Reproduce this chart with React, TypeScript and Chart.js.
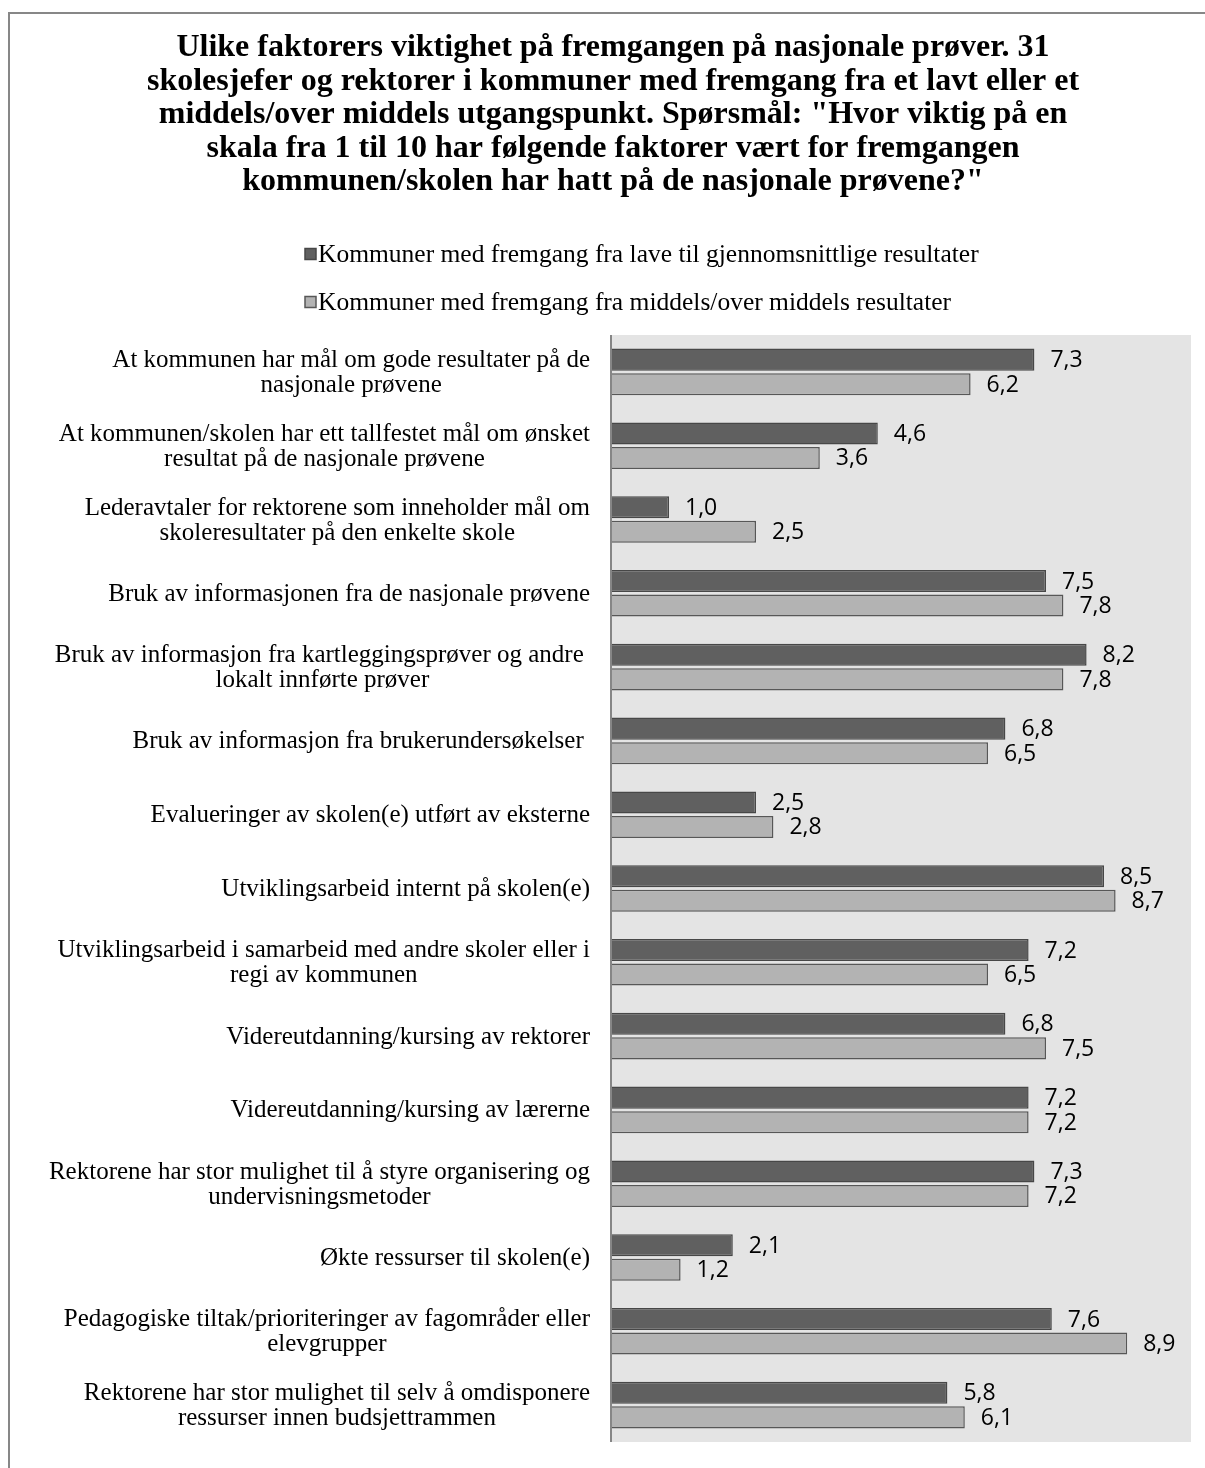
import React, { useEffect, useRef } from "react";
import { Chart, registerables } from "chart.js";

Chart.register(...registerables);

const TITLE_LINES = [
  "Ulike faktorers viktighet på fremgangen på nasjonale prøver. 31",
  "skolesjefer og rektorer i kommuner med fremgang fra et lavt eller et",
  "middels/over middels utgangspunkt. Spørsmål: \"Hvor viktig på en",
  "skala fra 1 til 10 har følgende faktorer vært for fremgangen",
  "kommunen/skolen har hatt på de nasjonale prøvene?\"",
];

const SERIES_NAMES = [
  "Kommuner med fremgang fra lave til gjennomsnittlige resultater",
  "Kommuner med fremgang fra middels/over middels resultater",
];

const CATEGORIES: string[][] = [
  ["At kommunen har mål om gode resultater på de", "nasjonale prøvene"],
  ["At kommunen/skolen har ett tallfestet mål om ønsket", "resultat på de nasjonale prøvene"],
  ["Lederavtaler for rektorene som inneholder mål om", "skoleresultater på den enkelte skole"],
  ["Bruk av informasjonen fra de nasjonale prøvene"],
  ["Bruk av informasjon fra kartleggingsprøver og andre ", "lokalt innførte prøver"],
  ["Bruk av informasjon fra brukerundersøkelser "],
  ["Evalueringer av skolen(e) utført av eksterne"],
  ["Utviklingsarbeid internt på skolen(e)"],
  ["Utviklingsarbeid i samarbeid med andre skoler eller i", "regi av kommunen"],
  ["Videreutdanning/kursing av rektorer"],
  ["Videreutdanning/kursing av lærerne"],
  ["Rektorene har stor mulighet til å styre organisering og", "undervisningsmetoder"],
  ["Økte ressurser til skolen(e)"],
  ["Pedagogiske tiltak/prioriteringer av fagområder eller", "elevgrupper"],
  ["Rektorene har stor mulighet til selv å omdisponere", "ressurser innen budsjettrammen"],
];

const LOW_TO_AVERAGE = [7.3, 4.6, 1.0, 7.5, 8.2, 6.8, 2.5, 8.5, 7.2, 6.8, 7.2, 7.3, 2.1, 7.6, 5.8];
const MID_TO_HIGH = [6.2, 3.6, 2.5, 7.8, 7.8, 6.5, 2.8, 8.7, 6.5, 7.5, 7.2, 7.2, 1.2, 8.9, 6.1];

const X_MIN = 0;
const X_MAX = 10;

const DARK_FILL = "#606060";
const DARK_BORDER = "#474747";
const LIGHT_FILL = "#b3b3b3";
const LIGHT_BORDER = "#575757";
const PLOT_BG = "#e4e4e4";

const SERIF = "'Liberation Serif', 'Times New Roman', serif";
const SANS = "'Open Sans', 'DejaVu Sans', sans-serif";

function drawText(
  ctx: CanvasRenderingContext2D,
  text: string,
  x: number,
  y: number,
  align: "left" | "center" | "right"
) {
  ctx.textAlign = align;
  ctx.fillText(text, x, y);
}

const decorPlugin = {
  id: "decor",
  beforeDraw(chart: any) {
    const { ctx, chartArea } = chart;
    ctx.save();
    ctx.fillStyle = "#ffffff";
    ctx.fillRect(0, 0, chart.width, chart.height);
    ctx.strokeStyle = "#878787";
    ctx.lineWidth = 2;
    ctx.strokeRect(9, 13, chart.width + 20, chart.height + 20);
    ctx.fillStyle = PLOT_BG;
    ctx.fillRect(chartArea.left, chartArea.top, chartArea.right - chartArea.left, chartArea.bottom - chartArea.top);
    ctx.restore();
  },
  afterDatasetsDraw(chart: any) {
    const { ctx, chartArea } = chart;
    ctx.save();
    ctx.strokeStyle = "#868686";
    ctx.lineWidth = 2;
    ctx.beginPath();
    ctx.moveTo(chartArea.left, chartArea.top);
    ctx.lineTo(chartArea.left, chartArea.bottom);
    ctx.stroke();
    ctx.fillStyle = "#000000";
    ctx.font = `23px ${SANS}`;
    ctx.textBaseline = "middle";
    chart.data.datasets.forEach((ds: any, di: number) => {
      const meta = chart.getDatasetMeta(di);
      meta.data.forEach((el: any, i: number) => {
        const v = ds.data[i] as number;
        const txt = v.toFixed(1).replace(".", ",");
        drawText(ctx, txt, el.x + 16, el.y + 1, "left");
      });
    });
    ctx.restore();
  },
  afterDraw(chart: any) {
    const { ctx } = chart;
    const yScale = chart.scales.y;
    ctx.save();
    ctx.fillStyle = "#000000";
    ctx.textBaseline = "middle";
    // title
    ctx.font = `bold 32px ${SERIF}`;
    TITLE_LINES.forEach((line, i) => {
      drawText(ctx, line, 613, 48 + i * 33.5, "center");
    });
    // legend
    const fills = [DARK_FILL, LIGHT_FILL];
    const borders = [DARK_BORDER, LIGHT_BORDER];
    ctx.font = `25.5px ${SERIF}`;
    SERIES_NAMES.forEach((name, i) => {
      const cy = 254.5 + i * 48;
      ctx.fillStyle = fills[i];
      ctx.fillRect(305, cy - 6, 11, 11);
      ctx.strokeStyle = borders[i];
      ctx.lineWidth = 1.5;
      ctx.strokeRect(305, cy - 6, 11, 11);
      ctx.fillStyle = "#000000";
      drawText(ctx, name, 318, cy + 1, "left");
    });
    // category labels
    ctx.font = `25px ${SERIF}`;
    const right = 590;
    const lh = 25;
    CATEGORIES.forEach((lines, i) => {
      const cy = yScale.getPixelForValue(i);
      const maxW = Math.max(...lines.map((l) => ctx.measureText(l).width));
      const cx = right - maxW / 2;
      lines.forEach((l, j) => {
        const y = cy + (j - (lines.length - 1) / 2) * lh + 1;
        drawText(ctx, l, cx, y, "center");
      });
    });
    ctx.restore();
  },
};

export default function App() {
  const canvasRef = useRef<HTMLCanvasElement | null>(null);

  useEffect(() => {
    const canvas = canvasRef.current;
    if (!canvas) return;
    const chart = new Chart(canvas, {
      type: "bar",
      data: {
        labels: CATEGORIES.map((c) => c.join(" ")),
        datasets: [
          {
            label: SERIES_NAMES[0],
            data: LOW_TO_AVERAGE,
            backgroundColor: DARK_FILL,
            borderColor: DARK_BORDER,
            borderWidth: 1.5,
            categoryPercentage: 0.664,
            barPercentage: 0.9,
          },
          {
            label: SERIES_NAMES[1],
            data: MID_TO_HIGH,
            backgroundColor: LIGHT_FILL,
            borderColor: LIGHT_BORDER,
            borderWidth: 1.5,
            categoryPercentage: 0.664,
            barPercentage: 0.9,
          },
        ],
      },
      options: {
        indexAxis: "y",
        responsive: false,
        maintainAspectRatio: false,
        animation: false,
        devicePixelRatio: 1,
        layout: { padding: { top: 335, left: 611, right: 14, bottom: 26 } },
        scales: {
          x: { min: X_MIN, max: X_MAX, display: false },
          y: { display: false, offset: true },
        },
        plugins: {
          legend: { display: false },
          title: { display: false },
          tooltip: { enabled: false },
        },
      },
      plugins: [decorPlugin],
    });
    return () => chart.destroy();
  }, []);

  return (
    <div style={{ position: "absolute", left: 0, top: 0, width: 1205, height: 1468, overflow: "hidden", background: "#fff" }}>
      <canvas ref={canvasRef} width={1205} height={1468} style={{ display: "block" }} />
    </div>
  );
}
